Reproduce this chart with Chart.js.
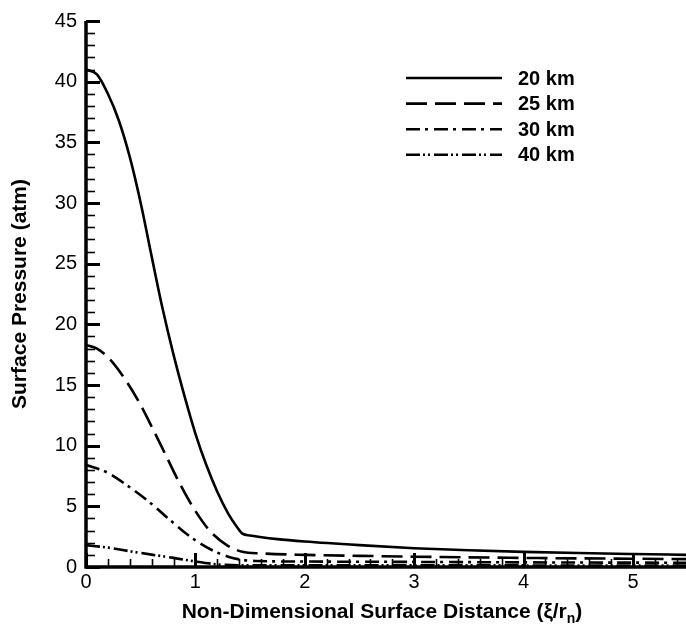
<!DOCTYPE html>
<html>
<head>
<meta charset="utf-8">
<script src="https://cdn.jsdelivr.net/npm/chart.js@4/dist/chart.umd.min.js"></script>
<style>
  html, body { margin: 0; padding: 0; background: #fff; }
  #wrap { width: 686px; height: 632px; }
</style>
</head>
<body>
<div id="wrap"><canvas id="chart" width="686" height="632"></canvas></div>
<script>
// Surface pressure vs. non-dimensional surface distance, four altitudes
const seriesLabels = ['20 km', '25 km', '30 km', '40 km'];

const dist20 = [0, 0.1, 0.2, 0.3, 0.4, 0.5, 0.6, 0.7, 0.8, 0.9, 1.0, 1.1, 1.2, 1.3, 1.38, 1.43, 1.5, 1.75, 2.0, 2.5, 3.0, 3.5, 4.0, 4.5, 5.0, 5.5];
const pres20 = [41.0, 40.6, 39.0, 36.8, 33.8, 30.0, 25.6, 21.3, 17.5, 14.1, 11.0, 8.4, 6.2, 4.4, 3.3, 2.75, 2.6, 2.3, 2.1, 1.8, 1.55, 1.38, 1.25, 1.15, 1.07, 1.0];

const dist25 = [0, 0.1, 0.21, 0.37, 0.49, 0.61, 0.73, 0.85, 0.98, 1.13, 1.28, 1.43, 1.6, 2.0, 2.5, 3.0, 4.0, 5.0, 5.5];
const pres25 = [18.3, 18.0, 17.2, 15.3, 13.5, 11.4, 9.2, 7.0, 4.9, 3.0, 1.85, 1.25, 1.12, 1.0, 0.92, 0.85, 0.75, 0.68, 0.65];

const dist30 = [0, 0.18, 0.38, 0.58, 0.77, 0.96, 1.15, 1.3, 1.42, 1.55, 2.0, 3.0, 4.0, 5.5];
const pres30 = [8.4, 7.85, 6.7, 5.35, 3.85, 2.45, 1.4, 0.85, 0.6, 0.5, 0.45, 0.42, 0.38, 0.35];

const dist40 = [0, 0.2, 0.4, 0.6, 0.8, 1.0, 1.2, 1.4, 2.0, 3.0, 4.0, 5.5];
const pres40 = [1.8, 1.6, 1.3, 1.02, 0.75, 0.45, 0.22, 0.15, 0.15, 0.14, 0.13, 0.12];

const xTickLabels = ['0', '1', '2', '3', '4', '5'];
const yTickLabels = ['0', '5', '10', '15', '20', '25', '30', '35', '40', '45'];

const FONT = '"Liberation Sans", Arial, Helvetica, sans-serif';

function pairs(xs, ys) { return xs.map((x, i) => ({ x: x, y: ys[i] })); }

const dashes = [[], [21, 8], [14, 5, 3, 6], [14, 3, 2, 3, 2, 4]];
const curves = [[dist20, pres20], [dist25, pres25], [dist30, pres30], [dist40, pres40]];

const datasets = curves.map((c, i) => ({
  label: seriesLabels[i],
  data: pairs(c[0], c[1]),
  borderColor: '#000',
  borderWidth: 2.6,
  borderDash: dashes[i],
  pointRadius: 0,
  fill: false,
  cubicInterpolationMode: 'monotone'
}));

// Inward tick marks and the heavy left/bottom axis lines
const axisFrame = {
  id: 'axisFrame',
  afterDatasetsDraw(chart) {
    const { ctx, chartArea: a, scales: { x, y } } = chart;
    ctx.save();
    ctx.strokeStyle = '#000';
    ctx.lineCap = 'butt';
    for (let v = 0; v <= y.max + 1e-9; v += 1) {
      const py = Math.round(y.getPixelForValue(v)) + 0.5;
      const major = v % 5 === 0;
      ctx.lineWidth = major ? 3 : 1.6;
      ctx.beginPath();
      ctx.moveTo(a.left, py);
      ctx.lineTo(a.left + (major ? 14 : 9), py);
      ctx.stroke();
    }
    for (let i = 0; i * 0.2 <= x.max + 1e-9; i++) {
      const px = Math.round(x.getPixelForValue(i * 0.2)) + 0.5;
      const major = i % 5 === 0;
      ctx.lineWidth = major ? 3 : 1.6;
      ctx.beginPath();
      ctx.moveTo(px, a.bottom);
      ctx.lineTo(px, a.bottom - (major ? 14 : 8));
      ctx.stroke();
    }
    ctx.lineWidth = 3.5;
    ctx.beginPath();
    ctx.moveTo(a.left, a.top);
    ctx.lineTo(a.left, a.bottom);
    ctx.lineTo(a.right, a.bottom);
    ctx.stroke();
    ctx.restore();
  }
};

// X-axis title with subscripted n
const xTitle = {
  id: 'xTitle',
  afterDraw(chart) {
    const { ctx, chartArea: a } = chart;
    const main = 'Non-Dimensional Surface Distance (\u03BE/r';
    const sub = 'n';
    const tail = ')';
    ctx.save();
    ctx.fillStyle = '#000';
    ctx.textBaseline = 'alphabetic';
    ctx.textAlign = 'left';
    const big = 'bold 21px ' + FONT;
    const small = 'bold 14px ' + FONT;
    ctx.font = big;
    const wMain = ctx.measureText(main).width;
    const wTail = ctx.measureText(tail).width;
    ctx.font = small;
    const wSub = ctx.measureText(sub).width;
    const total = wMain + wSub + wTail;
    const base = a.bottom + 51;
    let xs = (a.left + a.right) / 2 - total / 2 - 4;
    ctx.font = big;
    ctx.fillText(main, xs, base);
    xs += wMain;
    ctx.font = small;
    ctx.fillText(sub, xs, base + 5);
    xs += wSub;
    ctx.font = big;
    ctx.fillText(tail, xs, base);
    ctx.restore();
  }
};

// Line-style key in the upper right
const lineKey = {
  id: 'lineKey',
  afterDraw(chart) {
    const { ctx } = chart;
    ctx.save();
    ctx.fillStyle = '#000';
    ctx.strokeStyle = '#000';
    ctx.font = 'bold 20px ' + FONT;
    ctx.textBaseline = 'middle';
    ctx.textAlign = 'left';
    chart.data.datasets.forEach((ds, i) => {
      const yy = 78 + i * 25.6;
      ctx.lineWidth = ds.borderWidth;
      ctx.setLineDash(ds.borderDash || []);
      ctx.beginPath();
      ctx.moveTo(406, yy);
      ctx.lineTo(502, yy);
      ctx.stroke();
      ctx.setLineDash([]);
      ctx.fillText(ds.label, 518, yy + 1);
    });
    ctx.restore();
  }
};

new Chart(document.getElementById('chart'), {
  type: 'line',
  data: { datasets: datasets },
  options: {
    responsive: false,
    animation: false,
    devicePixelRatio: 1,
    layout: { padding: { top: 16, right: 0, left: 0, bottom: 0 } },
    plugins: { legend: { display: false }, tooltip: { enabled: false } },
    scales: {
      x: {
        type: 'linear',
        min: 0,
        max: 5.485,
        grid: { display: false, drawTicks: false },
        border: { display: false },
        ticks: {
          stepSize: 1,
          includeBounds: false,
          autoSkip: false,
          maxRotation: 0,
          padding: 3,
          color: '#000',
          font: { family: FONT, size: 20 },
          callback: (v) => xTickLabels[Math.round(v)] ?? ''
        },
        afterFit(scale) { scale.height = 65; }
      },
      y: {
        type: 'linear',
        min: 0,
        max: 45,
        grid: { display: false, drawTicks: false },
        border: { display: false },
        ticks: {
          stepSize: 5,
          autoSkip: false,
          padding: 9,
          color: '#000',
          font: { family: FONT, size: 20 },
          callback: (v) => yTickLabels[Math.round(v / 5)] ?? ''
        },
        title: {
          display: true,
          text: 'Surface Pressure (atm)',
          color: '#000',
          font: { family: FONT, size: 21, weight: 'bold' },
          padding: { top: 8, bottom: 0 }
        },
        afterFit(scale) { scale.width = 86; }
      }
    }
  },
  plugins: [axisFrame, xTitle, lineKey]
});
</script>
</body>
</html>
